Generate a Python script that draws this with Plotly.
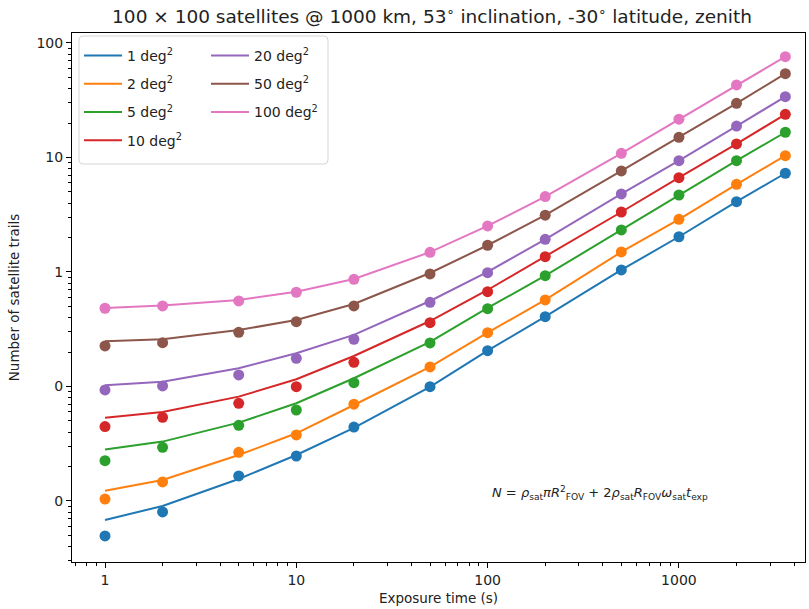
import plotly.graph_objects as go

# ---- data ----
exposure_s = [1, 2, 5, 10, 20, 50, 100, 200, 500, 1000, 2000, 3600]
fov_labels = ["1 deg<sup>2</sup>", "2 deg<sup>2</sup>", "5 deg<sup>2</sup>", "10 deg<sup>2</sup>",
              "20 deg<sup>2</sup>", "50 deg<sup>2</sup>", "100 deg<sup>2</sup>"]
colors = ["#1f77b4", "#ff7f0e", "#2ca02c", "#d62728", "#9467bd", "#8c564b", "#e377c2"]

# simulated counts (markers)
sim_1 = [0.00495, 0.00802, 0.01653, 0.0247, 0.0442, 0.0995, 0.2055, 0.407, 1.041, 2.03, 4.11, 7.28]
sim_2 = [0.0104, 0.01466, 0.0266, 0.0377, 0.070, 0.148, 0.295, 0.570, 1.495, 2.885, 5.83, 10.37]
sim_5 = [0.0225, 0.0294, 0.0458, 0.0623, 0.108, 0.240, 0.478, 0.928, 2.327, 4.70, 9.38, 16.6]
sim_10 = [0.0446, 0.0538, 0.0713, 0.0996, 0.1626, 0.361, 0.673, 1.36, 3.34, 6.66, 13.12, 23.8]
sim_20 = [0.0932, 0.101, 0.126, 0.1763, 0.2584, 0.5436, 0.986, 1.93, 4.80, 9.38, 18.8, 33.96]
sim_50 = [0.226, 0.241, 0.2974, 0.368, 0.505, 0.961, 1.711, 3.13, 7.62, 15.0, 29.7, 53.9]
sim_100 = [0.482, 0.505, 0.558, 0.665, 0.863, 1.486, 2.523, 4.55, 10.88, 21.6, 43.0, 75.9]

# analytic model (lines)
mod_1 = [0.00682, 0.00904, 0.01556, 0.0252, 0.0434, 0.099, 0.2055, 0.407, 1.041, 2.03, 4.11, 7.28]
mod_2 = [0.0123, 0.01525, 0.0252, 0.039, 0.0689, 0.148, 0.295, 0.570, 1.495, 2.885, 5.83, 10.37]
mod_5 = [0.0281, 0.033, 0.0483, 0.0713, 0.118, 0.245, 0.485, 0.928, 2.327, 4.70, 9.38, 16.6]
mod_10 = [0.0534, 0.0599, 0.0815, 0.1156, 0.1847, 0.373, 0.696, 1.36, 3.34, 6.66, 13.12, 23.8]
mod_20 = [0.1025, 0.110, 0.144, 0.195, 0.282, 0.558, 1.0, 1.93, 4.80, 9.38, 18.8, 33.96]
mod_50 = [0.248, 0.258, 0.311, 0.381, 0.5255, 0.98, 1.711, 3.13, 7.62, 15.0, 29.7, 53.9]
mod_100 = [0.485, 0.51, 0.569, 0.673, 0.869, 1.49, 2.523, 4.55, 10.88, 21.6, 43.0, 75.9]

sims = [sim_1, sim_2, sim_5, sim_10, sim_20, sim_50, sim_100]
mods = [mod_1, mod_2, mod_5, mod_10, mod_20, mod_50, mod_100]

y_tickvals = [0.01, 0.1, 1, 10, 100]
y_ticktext = ["0", "0", "1", "10", "100"]
x_tickvals = [1, 10, 100, 1000]
x_ticktext = ["1", "10", "100", "1000"]

FONT = "DejaVu Sans"

fig = go.Figure()
for i, (lab, col, mod) in enumerate(zip(fov_labels, colors, mods)):
    fig.add_trace(go.Scatter(
        x=exposure_s, y=mod, mode="lines", name=lab,
        line=dict(color=col, width=2),
        legend="legend" if i < 4 else "legend2",
        legendgroup=f"g{i}", showlegend=True))
for col, sim in zip(colors, sims):
    fig.add_trace(go.Scatter(
        x=exposure_s, y=sim, mode="markers", showlegend=False,
        marker=dict(color=col, size=11, line=dict(width=0))))

minor_vals = [m * 10 ** e for e in range(-3, 4) for m in range(2, 10)]

L, R, T, B = 72, 4, 33, 47
W, H = 809, 609
pw, ph = W - L - R, H - T - B

def px2paper(xp, yp):
    return (xp - L) / pw, 1 - (yp - T) / ph

x0, y1 = px2paper(79, 36)
x1, y0 = px2paper(328, 164)
rx, ry = 4 / pw, 4 / ph
path = (f"M {x0+rx},{y0} L {x1-rx},{y0} Q {x1},{y0} {x1},{y0+ry} "
        f"L {x1},{y1-ry} Q {x1},{y1} {x1-rx},{y1} L {x0+rx},{y1} "
        f"Q {x0},{y1} {x0},{y1-ry} L {x0},{y0+ry} Q {x0},{y0} {x0+rx},{y0} Z")

lx, ly = px2paper(79, 40)
lx2, _ = px2paper(206, 40)
title_x, _ = px2paper(432, 0)

legend_common = dict(
    bgcolor="rgba(0,0,0,0)", borderwidth=0,
    font=dict(family=FONT, size=14, color="#222"),
    yanchor="top", xanchor="left", tracegroupgap=7, itemwidth=38)

fig.update_layout(
    width=W, height=H,
    margin=dict(l=L, r=R, t=T, b=B),
    paper_bgcolor="white", plot_bgcolor="white",
    font=dict(family=FONT, size=14, color="#222"),
    title=dict(text="100 × 100 satellites @ 1000 km, 53<sup>∘</sup> inclination, -30<sup>∘</sup> latitude, zenith",
               x=title_x, xanchor="center", xref="paper", y=1 - 17 / H, yanchor="middle", yref="container",
               font=dict(family=FONT, size=18.5, color="#222")),
    xaxis=dict(type="log", range=[-0.1725, 3.659], tickvals=x_tickvals, ticktext=x_ticktext,
               showgrid=False, zeroline=False, showline=True, mirror=True, linecolor="black", linewidth=1,
               ticks="outside", ticklen=5, tickcolor="black", tickfont=dict(size=14),
               minor=dict(tickvals=minor_vals, ticks="outside", ticklen=3, tickcolor="black", showgrid=False),
               title=dict(text="Exposure time (s)", font=dict(size=13.5), standoff=6)),
    yaxis=dict(type="log", range=[-2.533, 2.087], tickvals=y_tickvals, ticktext=y_ticktext,
               showgrid=False, zeroline=False, showline=True, mirror=True, linecolor="black", linewidth=1,
               ticks="outside", ticklen=5, tickcolor="black", tickfont=dict(size=14),
               minor=dict(tickvals=minor_vals, ticks="outside", ticklen=3, tickcolor="black", showgrid=False),
               title=dict(text="Number of satellite trails", font=dict(size=13.5), standoff=13)),
    legend=dict(x=lx, y=ly, **legend_common),
    legend2=dict(x=lx2, y=ly, **legend_common),
    shapes=[dict(type="path", path=path, xref="paper", yref="paper",
                 line=dict(color="#d5d5d5", width=1), fillcolor="rgba(255,255,255,0.8)", layer="above")],
    annotations=[dict(
        text="<i>N</i> = <i>ρ</i><sub>sat</sub><i>πR</i><sup>2</sup><sub>FOV</sub> + 2<i>ρ</i><sub>sat</sub><i>R</i><sub>FOV</sub><i>ω</i><sub>sat</sub><i>t</i><sub>exp</sub>",
        x=2.585, y=-1.93, xref="x", yref="y", showarrow=False, xanchor="center", yanchor="middle",
        font=dict(family=FONT, size=13, color="#222"))],
)

fig.write_html("out.html", config={"displayModeBar": False},
               post_script="document.body.style.margin='0';document.body.style.overflow='hidden';")
